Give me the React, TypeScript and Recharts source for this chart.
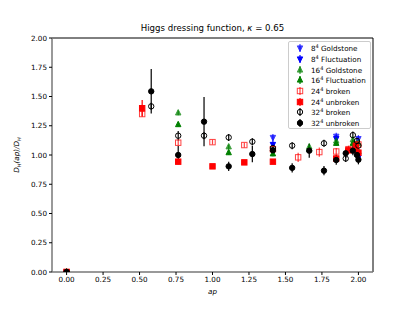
import { ScatterChart, Scatter, XAxis, YAxis, ErrorBar, ReferenceLine } from "recharts";

// lattice momenta ap
const ap8 = [0, 1.414, 1.848, 2.0];
const ap16 = [0, 0.765, 1.111, 1.414, 1.663, 1.848, 1.962, 2.0];
const ap24b = [0, 0.518, 0.765, 1.0, 1.218, 1.414, 1.587, 1.732, 1.848, 1.932, 1.983, 2.0];
const ap24u = [0, 0.518, 0.765, 1.0, 1.218, 1.414, 1.848, 1.932, 1.983, 2.0];
const ap32b = [0, 0.58, 0.765, 0.942, 1.111, 1.273, 1.414, 1.546, 1.764, 1.913, 1.962, 1.99, 2.0];
const ap32u = [0, 0.58, 0.765, 0.942, 1.111, 1.273, 1.414, 1.546, 1.663, 1.764, 1.848, 1.913, 1.962, 1.99, 2.0];

// D_H(ap)/D_H values and errors
const g8 = [0, 1.15, 1.16, 1.14];
const g8err = [0, 0.03, 0.03, 0.03];
const f8 = [0, 1.09, 1.14, 0.98];
const f8err = [0, 0.03, 0.03, 0.03];
const g16 = [0, 1.36, 1.07, 1.05, 1.07, 1.12, 1.13, 1.1];
const g16err = [0, 0.02, 0.02, 0.02, 0.02, 0.02, 0.02, 0.02];
const f16 = [0, 1.26, 1.02, 1.01, 1.05, 1.1, 1.1, 1.03];
const f16err = [0, 0.02, 0.02, 0.02, 0.02, 0.02, 0.02, 0.02];
const b24 = [0, 1.35, 1.105, 1.11, 1.085, 1.05, 0.98, 1.025, 1.03, 1.05, 1.07, 1.09];
const b24err = [0, 0.02, 0.02, 0.02, 0.02, 0.02, 0.04, 0.04, 0.03, 0.03, 0.03, 0.03];
const u24 = [0, 1.4, 0.943, 0.903, 0.937, 0.943, 0.97, 1.04, 1.08, 1.02];
const u24err = [0, 0.07, 0.02, 0.02, 0.02, 0.02, 0.03, 0.03, 0.04, 0.04];
const b32 = [0, 1.416, 1.165, 1.165, 1.15, 1.114, 1.06, 1.08, 1.1, 0.97, 1.17, 1.12, 1.08];
const b32err = [0, 0.03, 0.04, 0.03, 0.03, 0.03, 0.03, 0.03, 0.03, 0.03, 0.03, 0.03, 0.03];
const u32 = [0, 1.544, 1.0, 1.285, 0.903, 1.008, 1.04, 0.89, 1.037, 0.866, 0.957, 1.015, 1.037, 1.0, 0.96];
const u32err = [0, 0.19, 0.08, 0.21, 0.04, 0.07, 0.04, 0.04, 0.06, 0.04, 0.04, 0.04, 0.04, 0.04, 0.04];

const ticks = [0, 0.25, 0.5, 0.75, 1.0, 1.25, 1.5, 1.75, 2.0];

const zip = (xs: number[], ys: number[], es: number[]) =>
  xs.map((x, i) => ({ x, y: ys[i], err: es[i] }));

type Kind = "circle" | "square" | "up" | "down";

const series = [
  { name: "8", label: " Goldstone", data: zip(ap8, g8, g8err), kind: "down" as Kind, color: "#0000ff", filled: true, opacity: 0.75 },
  { name: "8", label: " Fluctuation", data: zip(ap8, f8, f8err), kind: "down" as Kind, color: "#0000ff", filled: true, opacity: 1 },
  { name: "16", label: " Goldstone", data: zip(ap16, g16, g16err), kind: "up" as Kind, color: "#008000", filled: true, opacity: 0.75 },
  { name: "16", label: " Fluctuation", data: zip(ap16, f16, f16err), kind: "up" as Kind, color: "#008000", filled: true, opacity: 1 },
  { name: "24", label: " broken", data: zip(ap24b, b24, b24err), kind: "square" as Kind, color: "#ff0000", filled: false, opacity: 0.75 },
  { name: "24", label: " unbroken", data: zip(ap24u, u24, u24err), kind: "square" as Kind, color: "#ff0000", filled: true, opacity: 1 },
  { name: "32", label: " broken", data: zip(ap32b, b32, b32err), kind: "circle" as Kind, color: "#000000", filled: false, opacity: 1 },
  { name: "32", label: " unbroken", data: zip(ap32u, u32, u32err), kind: "circle" as Kind, color: "#000000", filled: true, opacity: 1 },
];

const Marker = ({ cx, cy, kind, color, filled, opacity }: any) => {
  const r = 2.7;
  const fill = filled ? color : "none";
  const common = { fill, stroke: color, strokeWidth: 1, opacity };
  if (kind === "circle") return <circle cx={cx} cy={cy} r={r} {...common} />;
  if (kind === "square") return <rect x={cx - r} y={cy - r} width={2 * r} height={2 * r} {...common} />;
  if (kind === "up")
    return <polygon points={`${cx},${cy - r - 0.6} ${cx - r},${cy + r - 0.6} ${cx + r},${cy + r - 0.6}`} {...common} />;
  return <polygon points={`${cx},${cy + r + 0.6} ${cx - r},${cy - r + 0.6} ${cx + r},${cy - r + 0.6}`} {...common} />;
};

const font = "'DejaVu Sans', sans-serif";
const fmt = (v: number) => v.toFixed(2);

export default function App() {
  return (
    <div style={{ position: "absolute", left: 0, top: 0, width: 415, height: 312, background: "#fff", fontFamily: font }}>
      <div style={{ position: "absolute", left: 52, width: 321, top: 23, textAlign: "center", fontSize: 8.6, color: "#000" }}>
        Higgs dressing function, <i>κ</i> = 0.65
      </div>
      <div
        style={{
          position: "absolute", left: 17, top: 155, transform: "translate(-50%, -50%) rotate(-90deg)",
          fontSize: 7.2, whiteSpace: "nowrap", fontStyle: "italic",
        }}
      >
        D<sub style={{ fontSize: 5 }}>H</sub>(ap)/D<sub style={{ fontSize: 5 }}>H</sub>
      </div>
      <ScatterChart width={415} height={312} margin={{ top: 38, right: 42, bottom: 10, left: 0 }}>
        <XAxis
          type="number" dataKey="x" domain={[-0.1, 2.1]} ticks={ticks} tickFormatter={fmt}
          allowDataOverflow height={30} tickSize={3} tickMargin={2}
          tick={{ fontSize: 7.2, fill: "#000", fontFamily: font }}
          axisLine={{ stroke: "#777", strokeWidth: 1.5 }} tickLine={{ stroke: "#000" }}
          label={{ value: "ap", position: "insideBottom", offset: 8, fontSize: 7.2, fontStyle: "italic", fill: "#000" }}
        />
        <YAxis
          type="number" dataKey="y" domain={[0, 2]} ticks={ticks} tickFormatter={fmt}
          allowDataOverflow width={52} tickSize={3} tickMargin={2}
          tick={{ fontSize: 7.2, fill: "#000", fontFamily: font }}
          axisLine={{ stroke: "#777", strokeWidth: 1.5 }} tickLine={{ stroke: "#000" }}
        />
        <ReferenceLine y={2} stroke="#000" strokeWidth={1} />
        <ReferenceLine x={2.1} stroke="#000" strokeWidth={1} />
        {series.map((s, i) => (
          <Scatter
            key={i}
            data={s.data}
            isAnimationActive={false}
            shape={(p: any) => <Marker cx={p.cx} cy={p.cy} kind={s.kind} color={s.color} filled={s.filled} opacity={s.opacity} />}
          >
            <ErrorBar dataKey="err" direction="y" width={0} stroke={s.color} strokeWidth={1.2} strokeOpacity={s.opacity} />
          </Scatter>
        ))}
      </ScatterChart>
      <div
        style={{
          position: "absolute", left: 288, top: 41, width: 83, height: 88,
          border: "1px solid #ccc", borderRadius: 2, background: "rgba(255,255,255,0.85)",
          boxSizing: "border-box", paddingTop: 1,
        }}
      >
        {series.map((s, i) => (
          <div key={i} style={{ display: "flex", alignItems: "center", height: 10.7, fontSize: 7.2, whiteSpace: "nowrap" }}>
            <svg width={22} height={10} style={{ flex: "none" }}>
              <line x1={11} x2={11} y1={1} y2={9} stroke={s.color} strokeWidth={1.2} opacity={s.opacity} />
              <Marker cx={11} cy={5} kind={s.kind} color={s.color} filled={s.filled} opacity={s.opacity} />
            </svg>
            <span>
              {s.name}
              <sup style={{ fontSize: 5, verticalAlign: "3px" }}>4</sup>
              {s.label}
            </span>
          </div>
        ))}
      </div>
    </div>
  );
}
